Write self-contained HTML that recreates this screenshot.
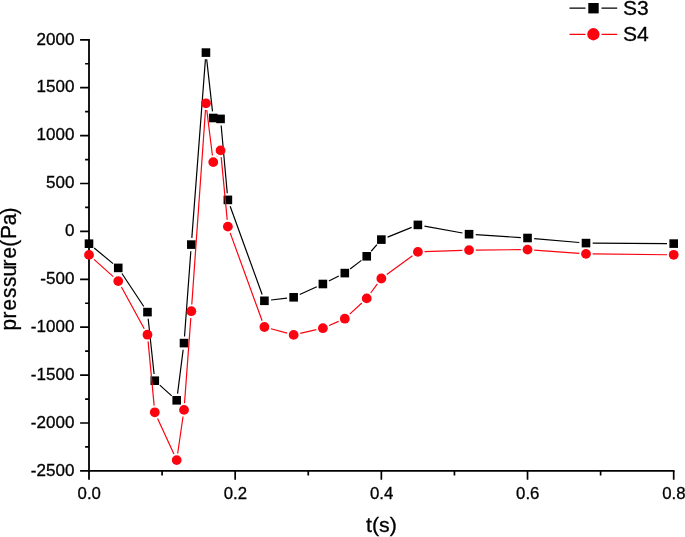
<!DOCTYPE html>
<html><head><meta charset="utf-8"><title>pressure vs t</title>
<style>
html,body{margin:0;padding:0;background:#fff;overflow:hidden}
svg{display:block;font-family:"Liberation Sans",sans-serif}
</style></head>
<body>
<svg width="685" height="537" viewBox="0 0 685 537">
<rect width="685" height="537" fill="#fff"/>
<path d="M89.0 38.90V479.8 M80.1 470.9H674.55" stroke="#000" stroke-width="1.8" fill="none"/>
<path d="M80.10 39.80H89.0M85.10 63.75H89.0M80.10 87.70H89.0M85.10 111.65H89.0M80.10 135.60H89.0M85.10 159.55H89.0M80.10 183.50H89.0M85.10 207.45H89.0M80.10 231.40H89.0M85.10 255.35H89.0M80.10 279.30H89.0M85.10 303.25H89.0M80.10 327.20H89.0M85.10 351.15H89.0M80.10 375.10H89.0M85.10 399.05H89.0M80.10 423.00H89.0M85.10 446.95H89.0M162.09 470.9V475.6M235.18 470.9V479.8M308.26 470.9V475.6M381.35 470.9V479.8M454.44 470.9V475.6M527.53 470.9V479.8M600.61 470.9V475.6M673.70 470.9V479.8" stroke="#000" stroke-width="1.7" fill="none"/>
<g font-size="16.3" fill="#000" stroke="#000" stroke-width="0.3"><text transform="translate(74.4 44.50) scale(1.045 1)" text-anchor="end">2000</text><text transform="translate(74.4 92.40) scale(1.045 1)" text-anchor="end">1500</text><text transform="translate(74.4 140.30) scale(1.045 1)" text-anchor="end">1000</text><text transform="translate(74.4 188.20) scale(1.045 1)" text-anchor="end">500</text><text transform="translate(74.4 236.10) scale(1.045 1)" text-anchor="end">0</text><text transform="translate(74.4 284.00) scale(1.045 1)" text-anchor="end">-500</text><text transform="translate(74.4 331.90) scale(1.045 1)" text-anchor="end">-1000</text><text transform="translate(74.4 379.80) scale(1.045 1)" text-anchor="end">-1500</text><text transform="translate(74.4 427.70) scale(1.045 1)" text-anchor="end">-2000</text><text transform="translate(74.4 475.60) scale(1.045 1)" text-anchor="end">-2500</text><text transform="translate(89.20 498.8) scale(1.03 1)" text-anchor="middle">0.0</text><text transform="translate(235.38 498.8) scale(1.03 1)" text-anchor="middle">0.2</text><text transform="translate(381.55 498.8) scale(1.03 1)" text-anchor="middle">0.4</text><text transform="translate(527.73 498.8) scale(1.03 1)" text-anchor="middle">0.6</text><text transform="translate(673.90 498.8) scale(1.03 1)" text-anchor="middle">0.8</text></g>
<text transform="translate(381.4 532.2) scale(1.035 1)" font-size="20.6" text-anchor="middle" stroke="#000" stroke-width="0.3">t(s)</text>
<text transform="translate(15.6 329.8) rotate(-90) scale(0.965 1)" font-size="21.5" stroke="#000" stroke-width="0.3" x="-0.80 11.66 19.95 32.90 44.40 55.13 65.65 73.89 86.01 94.20 108.45 119.59">pressure(Pa)</text>
<path d="M94.16 247.97L113.07 263.63M121.93 273.49L143.77 306.51M148.18 318.76L154.07 374.04M159.77 385.17L171.71 395.83M177.55 393.65L183.16 349.75M184.51 336.42L190.83 251.28M191.83 237.92L205.43 59.28M206.68 59.26L212.50 111.34M221.16 125.57L227.26 193.23M230.15 206.20L262.13 294.50M271.06 300.00L286.99 298.10M299.74 294.53L316.78 286.77M328.88 281.02L338.81 276.08M350.12 269.03L361.41 260.37M371.15 251.26L376.94 244.64M387.57 237.10L411.68 227.40M424.49 226.10L462.46 233.00M475.74 234.63L520.84 237.57M534.20 238.58L579.32 242.52M592.69 243.14L667.00 243.56" stroke="#000" stroke-width="1.2" fill="none"/>
<g fill="#000"><rect x="84.70" y="239.40" width="8.6" height="8.6"/><rect x="113.94" y="263.60" width="8.6" height="8.6"/><rect x="143.17" y="307.80" width="8.6" height="8.6"/><rect x="150.48" y="376.40" width="8.6" height="8.6"/><rect x="172.40" y="396.00" width="8.6" height="8.6"/><rect x="179.71" y="338.80" width="8.6" height="8.6"/><rect x="187.02" y="240.30" width="8.6" height="8.6"/><rect x="201.64" y="48.30" width="8.6" height="8.6"/><rect x="208.95" y="113.70" width="8.6" height="8.6"/><rect x="216.26" y="114.60" width="8.6" height="8.6"/><rect x="223.57" y="195.60" width="8.6" height="8.6"/><rect x="260.11" y="296.50" width="8.6" height="8.6"/><rect x="289.35" y="293.00" width="8.6" height="8.6"/><rect x="318.58" y="279.70" width="8.6" height="8.6"/><rect x="340.51" y="268.80" width="8.6" height="8.6"/><rect x="362.43" y="252.00" width="8.6" height="8.6"/><rect x="377.05" y="235.30" width="8.6" height="8.6"/><rect x="413.59" y="220.60" width="8.6" height="8.6"/><rect x="464.75" y="229.90" width="8.6" height="8.6"/><rect x="523.23" y="233.70" width="8.6" height="8.6"/><rect x="581.70" y="238.80" width="8.6" height="8.6"/><rect x="669.40" y="239.30" width="8.6" height="8.6"/></g>
<path d="M93.99 259.37L113.25 276.63M121.44 286.98L144.26 328.82M148.10 341.37L154.15 405.63M157.57 418.39L173.91 454.01M177.67 453.47L183.05 416.53M184.51 403.22L190.83 317.88M191.79 304.52L205.47 109.98M206.77 109.95L212.42 155.45M216.80 156.42L217.01 156.08M221.20 157.07L227.23 219.93M230.16 232.90L262.12 320.70M270.88 328.75L287.18 333.15M300.18 333.40L316.35 329.70M329.03 325.54L338.66 321.36M349.72 314.15L361.82 302.95M370.70 293.00L377.38 283.90M386.77 274.56L412.48 255.84M424.59 251.66L462.36 250.34M475.75 250.04L520.83 249.66M534.21 250.09L579.31 253.41M592.69 253.97L667.00 254.73" stroke="#fb0410" stroke-width="1.2" fill="none"/>
<g fill="#fb0410"><circle cx="89.00" cy="254.90" r="4.9"/><circle cx="118.23" cy="281.10" r="4.9"/><circle cx="147.47" cy="334.70" r="4.9"/><circle cx="154.78" cy="412.30" r="4.9"/><circle cx="176.70" cy="460.10" r="4.9"/><circle cx="184.01" cy="409.90" r="4.9"/><circle cx="191.32" cy="311.20" r="4.9"/><circle cx="205.94" cy="103.30" r="4.9"/><circle cx="213.25" cy="162.10" r="4.9"/><circle cx="220.56" cy="150.40" r="4.9"/><circle cx="227.87" cy="226.60" r="4.9"/><circle cx="264.41" cy="327.00" r="4.9"/><circle cx="293.65" cy="334.90" r="4.9"/><circle cx="322.88" cy="328.20" r="4.9"/><circle cx="344.81" cy="318.70" r="4.9"/><circle cx="366.73" cy="298.40" r="4.9"/><circle cx="381.35" cy="278.50" r="4.9"/><circle cx="417.89" cy="251.90" r="4.9"/><circle cx="469.06" cy="250.10" r="4.9"/><circle cx="527.52" cy="249.60" r="4.9"/><circle cx="586.00" cy="253.90" r="4.9"/><circle cx="673.70" cy="254.80" r="4.9"/></g>
<path d="M569.5 8.1H585.5M601.5 8.1H617.2" stroke="#000" stroke-width="1.2"/>
<rect x="588.3" y="3" width="10.4" height="10.4" fill="#000"/>
<path d="M569.5 34.3H585.5M601.5 34.3H617.2" stroke="#fb0410" stroke-width="1.2"/>
<circle cx="593.4" cy="34.25" r="6.15" fill="#fb0410"/>
<g font-size="21" stroke="#000" stroke-width="0.3"><text x="623" y="15.2">S3</text><text x="623" y="41.3">S4</text></g>
</svg>
</body></html>
